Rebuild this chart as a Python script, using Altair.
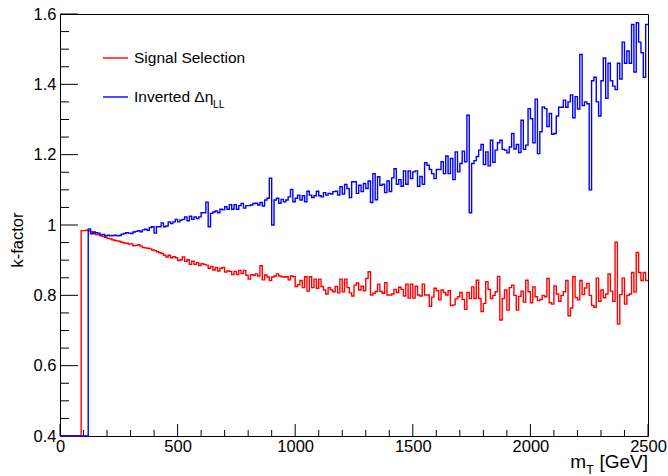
import altair as alt
import pandas as pd

# ---------------- data ----------------
BIN_WIDTH = 10          # GeV per bin
X_MAX = 2500
RED_START = 90          # first filled bin of "Signal Selection"
BLUE_START = 120        # first filled bin of "Inverted Delta eta_LL"

red_values = [
    # 90 - 390
    0.984, 0.984, 0.985, 0.983, 0.980, 0.976, 0.973, 0.972, 0.969, 0.967,
    0.965, 0.962, 0.961, 0.958, 0.956, 0.955, 0.953, 0.951, 0.949, 0.948,
    0.946, 0.946, 0.941, 0.942, 0.944, 0.940, 0.936, 0.935, 0.934, 0.932,
    0.929,
    # 400 - 820
    0.927, 0.924, 0.921, 0.919, 0.914, 0.909, 0.914, 0.907, 0.910, 0.907,
    0.899, 0.901, 0.909, 0.897, 0.901, 0.888, 0.897, 0.888, 0.893, 0.885,
    0.890, 0.888, 0.886, 0.877, 0.882, 0.872, 0.879, 0.869, 0.877, 0.879,
    0.866, 0.869, 0.868, 0.859, 0.868, 0.859, 0.871, 0.862, 0.871, 0.857,
    0.846, 0.859, 0.857,
    # 830 - 1240
    0.861, 0.855, 0.884, 0.844, 0.858, 0.852, 0.842, 0.852, 0.855, 0.861,
    0.855, 0.853, 0.852, 0.853, 0.844, 0.855, 0.853, 0.825, 0.830, 0.842,
    0.822, 0.853, 0.812, 0.853, 0.822, 0.846, 0.820, 0.846, 0.825, 0.815,
    0.804, 0.822, 0.815, 0.810, 0.825, 0.807, 0.846, 0.810, 0.846, 0.822,
    0.807, 0.798,
    # 1250 - 1670
    0.829, 0.835, 0.815, 0.826, 0.813, 0.848, 0.867, 0.801, 0.806, 0.811,
    0.832, 0.811, 0.806, 0.836, 0.801, 0.801, 0.804, 0.817, 0.808, 0.823,
    0.817, 0.798, 0.832, 0.792, 0.832, 0.792, 0.826, 0.801, 0.798, 0.832,
    0.801, 0.801, 0.769, 0.795, 0.820, 0.813, 0.787, 0.815, 0.808, 0.801,
    0.813, 0.771, 0.773,
    # 1680 - 2090
    0.790, 0.796, 0.808, 0.788, 0.760, 0.808, 0.791, 0.824, 0.791, 0.843,
    0.791, 0.754, 0.777, 0.839, 0.817, 0.791, 0.800, 0.810, 0.854, 0.730,
    0.791, 0.815, 0.758, 0.822, 0.829, 0.800, 0.758, 0.797, 0.812, 0.781,
    0.843, 0.810, 0.779, 0.824, 0.796, 0.785, 0.788, 0.800, 0.796, 0.848,
    0.779, 0.775,
    # 2100 - 2490
    0.827, 0.804, 0.783, 0.800, 0.810, 0.842, 0.742, 0.764, 0.853, 0.794,
    0.787, 0.842, 0.802, 0.821, 0.834, 0.800, 0.771, 0.766, 0.849, 0.783,
    0.815, 0.793, 0.804, 0.861, 0.812, 0.783, 0.951, 0.718, 0.802, 0.849,
    0.775, 0.800, 0.804, 0.865, 0.809, 0.922, 0.865, 0.842, 0.865, 0.842,
]

blue_values = [
    # 120 - 390
    0.989, 0.975, 0.980, 0.978, 0.977, 0.972, 0.973, 0.969, 0.971, 0.969,
    0.970, 0.971, 0.969, 0.970, 0.974, 0.976, 0.978, 0.977, 0.976, 0.980,
    0.982, 0.984, 0.981, 0.986, 0.988, 0.985, 0.993, 0.995,
    # 400 - 820
    0.977, 0.995, 0.995, 1.006, 0.995, 0.997, 1.009, 1.004, 1.009, 1.016,
    1.009, 1.014, 1.016, 1.023, 1.012, 1.025, 1.016, 1.023, 1.018, 1.023,
    1.035, 1.035, 1.065, 0.995, 1.033, 1.037, 1.040, 1.035, 1.045, 1.043,
    1.052, 1.045, 1.058, 1.045, 1.058, 1.045, 1.055, 1.061, 1.048, 1.055,
    1.055, 1.057, 1.061,
    # 830 - 1240
    1.062, 1.057, 1.064, 1.054, 1.071, 1.076, 1.133, 1.000, 1.071, 1.076,
    1.062, 1.073, 1.066, 1.071, 1.080, 1.101, 1.066, 1.076, 1.085, 1.071,
    1.083, 1.066, 1.096, 1.085, 1.078, 1.083, 1.096, 1.083, 1.080, 1.092,
    1.085, 1.090, 1.088, 1.095, 1.096, 1.085, 1.109, 1.088, 1.115, 1.104,
    1.078, 1.123,
    # 1250 - 1670
    1.123, 1.090, 1.113, 1.095, 1.118, 1.104, 1.125, 1.064, 1.146, 1.072,
    1.137, 1.113, 1.116, 1.092, 1.125, 1.095, 1.134, 1.160, 1.116, 1.129,
    1.110, 1.154, 1.116, 1.154, 1.132, 1.151, 1.154, 1.110, 1.138, 1.116,
    1.177, 1.170, 1.158, 1.146, 1.132, 1.158, 1.158, 1.180, 1.146, 1.196,
    1.146, 1.189, 1.129,
    # 1680 - 2090
    1.208, 1.151, 1.175, 1.210, 1.180, 1.312, 1.035, 1.175, 1.183, 1.195,
    1.213, 1.229, 1.172, 1.208, 1.168, 1.241, 1.178, 1.213, 1.234, 1.241,
    1.215, 1.213, 1.205, 1.222, 1.260, 1.216, 1.229, 1.206, 1.298, 1.215,
    1.227, 1.331, 1.302, 1.234, 1.358, 1.203, 1.265, 1.336, 1.331, 1.280,
    1.317, 1.258,
    # 2100 - 2490
    1.260, 1.310, 1.335, 1.335, 1.355, 1.335, 1.350, 1.370, 1.305, 1.365,
    1.330, 1.485, 1.340, 1.350, 1.345, 1.100, 1.410, 1.420, 1.350, 1.310,
    1.410, 1.475, 1.360, 1.460, 1.410, 1.395, 1.385, 1.460, 1.415, 1.520,
    1.460, 1.495, 1.460, 1.570, 1.435, 1.575, 1.520, 1.490, 1.420, 1.570,
]

series_names = ["Signal Selection", "Inverted Δη"]
x_major = [0, 500, 1000, 1500, 2000, 2500]
x_minor = [100, 200, 300, 400, 600, 700, 800, 900, 1100, 1200, 1300, 1400,
           1600, 1700, 1800, 1900, 2100, 2200, 2300, 2400]
y_major = [0.4, 0.6, 0.8, 1.0, 1.2, 1.4, 1.6]
y_minor = [0.45, 0.5, 0.55, 0.65, 0.7, 0.75, 0.85, 0.9, 0.95, 1.05, 1.1, 1.15,
           1.25, 1.3, 1.35, 1.45, 1.5, 1.55]


def hist_frame(start, vals, name):
    edges = [0] + [start + BIN_WIDTH * i for i in range(len(vals))] + [X_MAX]
    ys = [0.0] + list(vals) + [vals[-1]]
    return pd.DataFrame({"x": edges, "y": ys, "series": name})


red_df = hist_frame(RED_START, red_values, series_names[0])
blue_df = hist_frame(BLUE_START, blue_values, series_names[1])

# ---------------- styling ----------------
W, H = 588, 422
FONT = "Liberation Sans"
LABEL_SIZE = 16.5

xs = alt.Scale(domain=[0, X_MAX], nice=False, zero=False)
ys = alt.Scale(domain=[0.4, 1.6], nice=False, zero=False, clamp=True)

x_axis = alt.Axis(values=x_major, format="d", ticks=False, domain=False, grid=False,
                  labelFlush=False, labelFont=FONT, labelFontSize=LABEL_SIZE,
                  labelColor="black", labelPadding=2, title=None)
y_axis = alt.Axis(values=y_major, format=".1~f", ticks=False, domain=False, grid=False,
                  labelFont=FONT, labelFontSize=LABEL_SIZE, labelColor="black",
                  labelPadding=4, title=None)

red_line = alt.Chart(red_df).mark_line(
    interpolate="step-after", color="#ff0000", strokeWidth=1.4
).encode(
    x=alt.X("x:Q", scale=xs, axis=x_axis),
    y=alt.Y("y:Q", scale=ys, axis=y_axis),
)
blue_line = alt.Chart(blue_df).mark_line(
    interpolate="step-after", color="#0000ff", strokeWidth=1.4
).encode(
    x=alt.X("x:Q", scale=xs, axis=x_axis),
    y=alt.Y("y:Q", scale=ys, axis=y_axis),
)


# inward ROOT-style ticks
def xticks(vals, length):
    return alt.Chart(pd.DataFrame({"x": vals})).mark_rule(color="black", strokeWidth=1).encode(
        x=alt.X("x:Q", scale=xs, axis=x_axis),
        y=alt.value(H), y2=alt.value(H - length),
    )


def yticks(vals, length):
    return alt.Chart(pd.DataFrame({"y": vals})).mark_rule(color="black", strokeWidth=1).encode(
        y=alt.Y("y:Q", scale=ys, axis=y_axis),
        x=alt.value(0), x2=alt.value(length),
    )


one = pd.DataFrame({"a": [0]})


def text(label, x, y, size=LABEL_SIZE, align="left", angle=0):
    kw = dict(align=align, baseline="middle", font=FONT, fontSize=size, color="black")
    if angle:
        kw["angle"] = angle
    return alt.Chart(one).mark_text(**kw).encode(
        x=alt.value(x), y=alt.value(y), text=alt.value(label)
    )


def sample(color, y):
    return alt.Chart(one).mark_rule(color=color, strokeWidth=1.4).encode(
        x=alt.value(43), x2=alt.value(68), y=alt.value(y)
    )


LEG = 15.5
TITLE = 19
layers = [
    xticks(x_major, 12), xticks(x_minor, 6),
    yticks(y_major, 18), yticks(y_minor, 9),
    red_line, blue_line,
    sample("#ff0000", 44), text(series_names[0], 74, 44, LEG),
    sample("#0000ff", 83), text(series_names[1], 74, 83, LEG),
    text("LL", 153, 91, 10.5),
    # axis titles
    text("k-factor", -42, 226, LABEL_SIZE, align="center", angle=270),
    text("[GeV]", W, 448, TITLE, align="right"),
    text("T", W - 54, 456, 12.5, align="right"),
    text("m", W - 62, 448, TITLE, align="right"),
]

chart = alt.layer(*layers).properties(
    width=W, height=H,
    padding={"left": 60, "top": 14, "right": 20, "bottom": 40},
    autosize=alt.AutoSizeParams(type="none"),
    background="white",
).configure_view(stroke="black", strokeWidth=1)

chart.save("out.html", embed_options={"renderer": "svg", "actions": False})
